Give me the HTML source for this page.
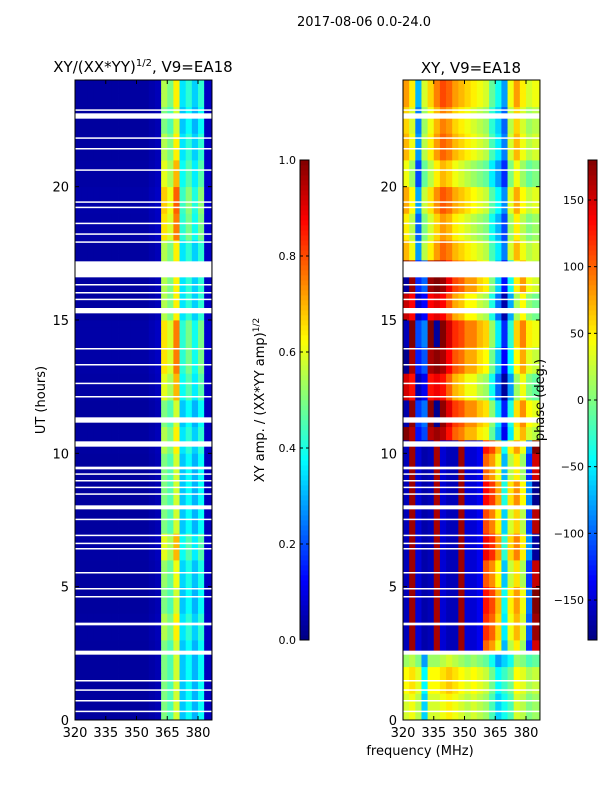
<!DOCTYPE html>
<html><head><meta charset="utf-8"><style>
body{margin:0;background:#fff;width:600px;height:800px;overflow:hidden;font-family:"Liberation Sans","DejaVu Sans",sans-serif}
svg text{font-family:"DejaVu Sans","Liberation Sans",sans-serif;fill:#000}
</style></head><body>
<svg id="fig" width="600" height="800" viewBox="0 0 600 800" xmlns="http://www.w3.org/2000/svg">
<text x="364" y="26" font-size="13" text-anchor="middle">2017-08-06 0.0-24.0</text>
<text x="143" y="72" font-size="15" text-anchor="middle">XY/(XX*YY)<tspan dy="-6" font-size="10">1/2</tspan><tspan dy="6">, V9=EA18</tspan></text>
<text x="471" y="73" font-size="15" text-anchor="middle">XY, V9=EA18</text>
<text x="45" y="400" font-size="13" text-anchor="middle" transform="rotate(-90 45 400)">UT (hours)</text>
<text x="420" y="755" font-size="13" text-anchor="middle">frequency (MHz)</text>
<text x="264" y="400" font-size="13" text-anchor="middle" transform="rotate(-90 264 400)">XY amp. / (XX*YY amp)<tspan dy="-5" font-size="9">1/2</tspan></text>
<g id="left"></g><g id="right"></g><g id="cbars"></g>
<text x="544" y="400" font-size="13" text-anchor="middle" transform="rotate(-90 544 400)">phase (deg.)</text>
</svg>
<script>
// ---- data arrays ----
const hourTicks=[0,5,10,15,20];
const freqTicks=[320,335,350,365,380];
const freqEdges=[320,323,326,329,332,335,338,341,344,347,350,353,356,359,362,365,368,371,374,377,380,383,386.8];
const ampProfile=[0.03,0.03,0.03,0.03,0.03,0.03,0.03,0.03,0.03,0.03,0.03,0.03,0.04,0.05,0.5,0.45,0.58,0.32,0.38,0.3,0.38,0.06];
const ampHourGain=[1,1,1,1.1,1,1.05,1.2,1,1,1,1.1,1,1.2,1.3,1.3,1.1,1.1,1.1,1.3,1.35,1.2,1.1,1,1.1];
const phaseA=[30,40,20,-60,30,30,40,50,40,30,20,30,20,10,-20,-60,-40,-20,30,20,0,10];
const phaseB=[-160,170,-150,-165,-160,165,-150,-160,-160,170,-150,-150,-140,120,100,60,-50,40,70,30,-100,170];
const phaseC=[170,150,-140,-120,150,160,150,120,90,80,60,60,40,30,-20,-80,-150,-60,30,60,20,10];
const phaseD=[60,30,-90,10,40,70,90,80,60,50,40,30,20,10,-30,-60,-100,20,60,30,10,20];
const phaseHourShift=[0,15,-20,0,10,-15,20,-10,15,-20,10,25,-20,15,30,-15,20,10,-10,15,-20,10,0,20];
const flagged=[[0.3,0.35],[0.7,0.75],[1.1,1.15],[1.45,1.5],[2.45,2.6],[3.55,3.65],[4.6,4.65],[4.9,4.95],[5.5,5.55],[6.4,6.45],[6.6,6.65],[6.9,6.95],[7.5,7.55],[7.9,8.05],[8.45,8.5],[8.7,8.75],[8.95,9.0],[9.2,9.25],[9.4,9.5],[10.25,10.45],[11.15,11.35],[12.1,12.15],[12.6,12.65],[13.3,13.35],[13.9,13.95],[15.25,15.45],[15.75,15.8],[16.0,16.05],[16.3,16.35],[16.6,17.2],[17.9,17.95],[18.2,18.25],[18.6,18.65],[19.2,19.25],[19.4,19.45],[20.6,20.65],[21.4,21.45],[21.8,21.85],[22.55,22.75],[22.85,22.9]];
// ---- helpers ----
const NS="http://www.w3.org/2000/svg";
const Y0=720,Y1=80;
function yScale(h){return Y0-(h/24)*(Y0-Y1);}
function xScaleL(f){return 75+(f-320)*2.05;}
function xScaleR(f){return 403+(f-320)*2.05;}
function jet(v){v=Math.max(0,Math.min(1,v));
 const r=Math.max(0,Math.min(1,Math.min(4*v-1.5,-4*v+4.5)));
 const g=Math.max(0,Math.min(1,Math.min(4*v-0.5,-4*v+3.5)));
 const b=Math.max(0,Math.min(1,Math.min(4*v+0.5,-4*v+2.5)));
 return `rgb(${Math.round(r*255)},${Math.round(g*255)},${Math.round(b*255)})`;}
function mk(tag,attrs,parent){const e=document.createElementNS(NS,tag);for(const k in attrs)e.setAttribute(k,attrs[k]);parent.appendChild(e);return e;}
function wrap(p){let x=p;while(x>180)x-=360;while(x<-180)x+=360;return x;}
function phaseRow(h){if(h<2.5)return phaseA;if(h<10.4)return phaseB;if(h<17.2)return phaseC;return phaseD;}
function drawPanel(g,xs,valFn,name){
 for(let r=0;r<96;r++){const h0=r*0.25,h1=h0+0.25;
  for(let c=0;c<freqEdges.length-1;c++){
   const x0=xs(freqEdges[c]),x1=xs(freqEdges[c+1]);
   const e=mk('rect',{x:x0,y:yScale(h1),width:x1-x0+0.4,height:yScale(h0)-yScale(h1)+0.4,fill:jet(valFn(h0,c))},g);
   
   
  }}
 flagged.forEach(f=>{const e=mk('rect',{x:xs(320),y:yScale(f[1]),width:xs(386.8)-xs(320),height:Math.max(1.5,yScale(f[0])-yScale(f[1])),fill:'#fff'},g);
  
  });
 const fr=mk('rect',{x:xs(320),y:Y1,width:xs(386.8)-xs(320),height:Y0-Y1,fill:'none',stroke:'#000','stroke-width':1},g);
 
 
 hourTicks.forEach(h=>{const y=yScale(h);
  mk('line',{x1:xs(320),x2:xs(320)+4,y1:y,y2:y,stroke:'#000'},g);
  mk('line',{x1:xs(386.8),x2:xs(386.8)-4,y1:y,y2:y,stroke:'#000'},g);
  const t=mk('text',{x:xs(320)-6,y:y+5,'font-size':13,'text-anchor':'end'},g);t.textContent=h;
  
  });
 freqTicks.forEach(f=>{const x=xs(f);
  mk('line',{x1:x,x2:x,y1:Y0,y2:Y0-4,stroke:'#000'},g);
  mk('line',{x1:x,x2:x,y1:Y1,y2:Y1+4,stroke:'#000'},g);
  const t=mk('text',{x:x,y:Y0+17,'font-size':13,'text-anchor':'middle'},g);t.textContent=f;
  
  });
}
drawPanel(document.getElementById('left'),xScaleL,(h,c)=>ampProfile[c]*ampHourGain[Math.floor(h)],'amp');
drawPanel(document.getElementById('right'),xScaleR,(h,c)=>{const inB=(h>=2.5&&h<10.4&&c<13);const p=phaseRow(h)[c]+(inB?0:phaseHourShift[Math.floor(h)]);return (wrap(p)+180)/360;},'phase');
// colorbars
const cb=document.getElementById('cbars');
function colorbar(x,labels,vals,vmin,vmax,name){
 for(let i=0;i<96;i++){const v=i/96;
  const e=mk('rect',{x:x,y:640-(i+1)*5,width:9,height:5.4,fill:jet(v+0.005)},cb);
  
  }
 const f=mk('rect',{x:x,y:160,width:9,height:480,fill:'none',stroke:'#000'},cb);
 
 
 vals.forEach((v,i)=>{const y=640-(v-vmin)/(vmax-vmin)*480;
  mk('line',{x1:x,x2:x+3,y1:y,y2:y,stroke:'#000'},cb);
  mk('line',{x1:x+9,x2:x+6,y1:y,y2:y,stroke:'#000'},cb);
  const t=mk('text',{x:x-4,y:y+4,'font-size':11,'text-anchor':'end'},cb);t.textContent=labels[i];
  
  });
}
const ampCbVals=[0,0.2,0.4,0.6,0.8,1.0];
const ampCbLabels=['0.0','0.2','0.4','0.6','0.8','1.0'];
const phCbVals=[-150,-100,-50,0,50,100,150];
const phCbLabels=['\u2212150','\u2212100','\u221250','0','50','100','150'];
colorbar(300,ampCbLabels,ampCbVals,0,1,'amp-colorbar');
colorbar(588,phCbLabels,phCbVals,-180,180,'phase-colorbar');
</script>
</body></html>
